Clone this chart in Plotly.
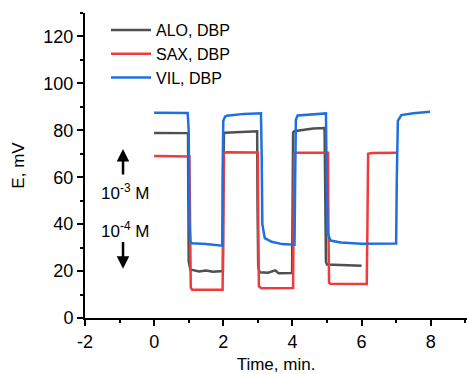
import plotly.graph_objects as go

# ---- data ----
alo_t = [0, 0.98, 0.99, 1.0, 1.05, 1.1, 1.3, 1.5, 1.7, 1.99, 2.0, 2.02, 2.05, 2.5, 2.98, 2.99, 3.01,
         3.05, 3.3, 3.5, 3.6, 3.99, 4.0, 4.02, 4.05, 4.3, 4.6, 4.93, 4.94, 4.97, 5.0, 5.5, 6.0]
alo_E = [78.9, 78.8, 50, 24, 20.5, 20.5, 19.8, 20.2, 19.7, 20, 60, 78.5, 79, 79.2, 79.6, 50, 22,
         19.5, 19.3, 20.3, 19.1, 19.2, 60, 79, 79.6, 80.2, 80.8, 81, 50, 24, 22.8, 22.4, 22.3]

sax_t = [0, 1.02, 1.04, 1.06, 1.1, 1.5, 1.98, 2.0, 2.02, 2.1, 2.5, 3.0, 3.01, 3.03, 3.1, 3.6,
         4.02, 4.03, 4.05, 4.1, 4.6, 5.03, 5.04, 5.06, 5.1, 5.6, 6.15, 6.17, 6.19, 6.3, 7.05]
sax_E = [69, 68.8, 40, 13, 12, 11.9, 12, 40, 70.3, 70.6, 70.5, 70.5, 40, 13.5, 12.7, 12.7,
         12.8, 40, 70, 70.4, 70.4, 70.4, 40, 15, 14.6, 14.5, 14.5, 40, 70, 70.3, 70.4]

vil_t = [0, 0.97, 1.0, 1.02, 1.05, 1.1, 1.5, 1.97, 1.98, 2.0, 2.05, 2.1, 2.6, 3.09, 3.11, 3.13,
         3.2, 3.4, 3.7, 4.06, 4.08, 4.1, 4.15, 4.6, 4.97, 4.99, 5.02, 5.1, 5.4, 6.0, 7.0, 7.02,
         7.05, 7.15, 7.5, 7.98]
vil_E = [87.5, 87.4, 80, 40, 32.5, 31.9, 31.5, 30.8, 60, 84, 85.8, 86.2, 87, 87.3, 70, 40,
         34, 32.5, 31.5, 31.2, 60, 84.5, 86.3, 86.8, 87.2, 60, 36, 33, 32.2, 31.7, 31.8, 60,
         84, 86.5, 87.3, 87.9]

x_tickvals = [-2, 0, 2, 4, 6, 8]
x_ticktext = ["-2", "0", "2", "4", "6", "8"]

series_names = ["ALO, DBP", "SAX, DBP", "VIL, DBP"]
series_colors = ["#505050", "#ef3b3b", "#1f6fe0"]

FONT = "Liberation Sans, Arial, sans-serif"

fig = go.Figure()
for name, t, e, c in zip(series_names, [alo_t, sax_t, vil_t], [alo_E, sax_E, vil_E], series_colors):
    fig.add_trace(go.Scatter(x=t, y=e, mode="lines", name=name,
                             line=dict(color=c, width=2.5)))

axis_common = dict(showline=True, linecolor="black", linewidth=2, mirror=False,
                   ticks="outside", ticklen=6, tickwidth=2, tickcolor="black",
                   showgrid=False, zeroline=False, automargin=False,
                   tickfont=dict(family=FONT, size=18, color="black"))

fig.update_xaxes(range=[-2, 9.05], tickmode="array", tickvals=x_tickvals, ticktext=x_ticktext,
                 minor=dict(ticks="outside", ticklen=3, tickwidth=2, tickcolor="black",
                            tickmode="linear", tick0=0, dtick=1),
                 title=dict(text="Time, min.", font=dict(family=FONT, size=17, color="black"), standoff=20),
                 **axis_common)
fig.update_yaxes(range=[0, 130], dtick=20, tick0=0,
                 minor=dict(ticks="outside", ticklen=3, tickwidth=2, tickcolor="black", dtick=10),
                 title=dict(text="E, mV", font=dict(family=FONT, size=17, color="black"), standoff=14),
                 **axis_common)

# arrows and concentration labels
fig.add_annotation(x=-0.9, y=72, ax=-0.9, ay=60.5, xref="x", yref="y", axref="x", ayref="y",
                   showarrow=True, arrowhead=2, arrowsize=1, arrowwidth=2.5, arrowcolor="black", text="")
fig.add_annotation(x=-0.9, y=21, ax=-0.9, ay=33, xref="x", yref="y", axref="x", ayref="y",
                   showarrow=True, arrowhead=2, arrowsize=1, arrowwidth=2.5, arrowcolor="black", text="")
fig.add_annotation(x=-0.85, y=53.5, text="10<sup>-3</sup> M", showarrow=False,
                   font=dict(family=FONT, size=17, color="black"))
fig.add_annotation(x=-0.85, y=37.5, text="10<sup>-4</sup> M", showarrow=False,
                   font=dict(family=FONT, size=17, color="black"))

fig.update_layout(
    width=467, height=374,
    margin=dict(l=85, r=0, t=13, b=56),
    plot_bgcolor="white", paper_bgcolor="white",
    legend=dict(x=0.055, y=1.0, xanchor="left", yanchor="top",
                bgcolor="rgba(0,0,0,0)", font=dict(family=FONT, size=16, color="black"),
                tracegroupgap=0, itemwidth=40),
)

fig.write_html("out.html")
